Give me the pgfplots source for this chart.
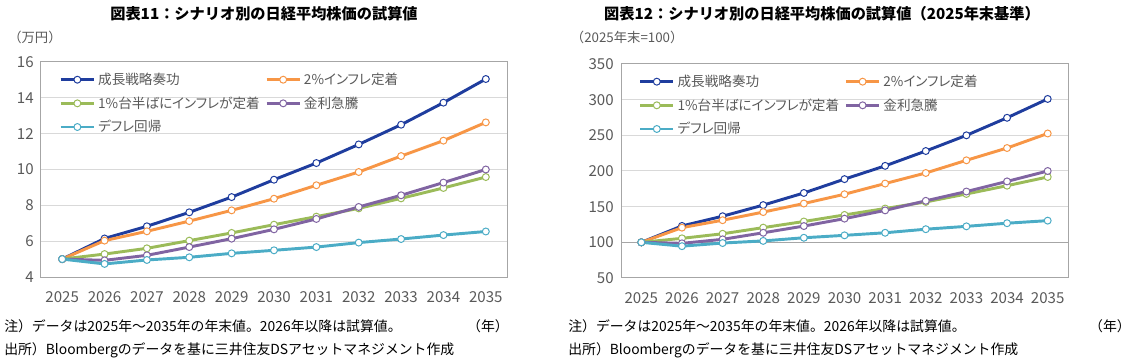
\documentclass[border=0pt]{standalone}
\usepackage{pgfplots}
\pgfplotsset{compat=1.18}
\usepackage{pgfplotstable}
\usepackage{fontspec}
\setmainfont{Noto Sans CJK JP}
\newfontfamily\legfont[RawFeature=+palt]{Noto Sans CJK JP}
\definecolor{cblue}{HTML}{1F3D9E}
\definecolor{corange}{HTML}{F79646}
\definecolor{cgreen}{HTML}{9BBB59}
\definecolor{cpurple}{HTML}{8064A2}
\definecolor{ccyan}{HTML}{4BACC6}
\definecolor{tickgray}{HTML}{595959}
\definecolor{gridgray}{HTML}{D9D9D9}
\definecolor{framegray}{HTML}{A6A6A6}

\pgfplotstableread{
x b o g p c
0 5.00 5.00 5.00 5.00 5.00
1 6.15 6.03 5.28 4.93 4.73
2 6.83 6.55 5.60 5.21 4.95
3 7.61 7.12 6.03 5.67 5.10
4 8.46 7.72 6.46 6.14 5.32
5 9.43 8.37 6.92 6.66 5.49
6 10.36 9.12 7.37 7.24 5.67
7 11.40 9.86 7.83 7.91 5.92
8 12.50 10.75 8.39 8.56 6.12
9 13.73 11.61 8.97 9.27 6.34
10 15.05 12.63 9.58 10.00 6.54
}\tabA

\pgfplotstableread{
x b o g p c
0 100 100 100 100 100
1 123 120.6 105.6 98.6 94.6
2 136.6 131 112 104.2 99
3 152.2 142.4 120.6 113.4 102
4 169.2 154.4 129.2 122.8 106.4
5 188.6 167.4 138.4 133.2 109.8
6 207.2 182.4 147.4 144.8 113.4
7 228 197.2 156.6 158.2 118.4
8 250 215 167.8 171.2 122.4
9 274.6 232.2 179.4 185.4 126.8
10 301 252.6 191.6 200 130.4
}\tabB

\pgfplotsset{
  mystyle/.style={
    scale only axis,
    anchor=north west,
    xmin=-0.5, xmax=10.5,
    xtick={0,...,10},
    xticklabels={2025,2026,2027,2028,2029,2030,2031,2032,2033,2034,2035},
    major tick length=0pt,
    ymajorgrids,
    grid style={gridgray, line width=0.75pt},
    axis line style={framegray, line width=0.75pt},
    tick label style={font=\fontsize{11.3}{13}\selectfont, text=tickgray},
    /pgf/number format/assume math mode=true,
    xticklabel style={yshift=-7.5pt},
    yticklabel style={xshift=-2pt},
    every axis plot/.append style={line width=2.2pt, mark=*, mark size=2.6pt,
       mark options={fill=white, line width=0.75pt}},
    legend columns=2,
    legend cell align=left,
    legend style={draw=none, fill=none, font=\legfont\fontsize{10.2}{12}\selectfont,
       text=tickgray, row sep=3.6pt,
       /tikz/every even column/.append style={column sep=2pt}},
    legend image code/.code={\draw[mark repeat=2,mark phase=2,##1] plot coordinates {(0pt,0pt) (12.5pt,0pt) (25pt,0pt)};},
  }
}

\begin{document}
\begin{tikzpicture}
\useasboundingbox (0,0) rectangle (850.5pt,-272.25pt);

\begin{axis}[mystyle, at={(30.75pt,-46.5pt)}, width=349.5pt, height=161.25pt,
  ymin=4, ymax=16, ytick={4,6,...,16},
  legend style={at={(0.03,0.975)}, anchor=north west}]
\addplot[cblue] table[x=x,y=b]{\tabA};
\addlegendentry{成長戦略奏功}
\addplot[corange] table[x=x,y=o]{\tabA};
\addlegendentry{2\%インフレ定着}
\addplot[cgreen] table[x=x,y=g]{\tabA};
\addlegendentry{1\%台半ばにインフレが定着}
\addplot[cpurple] table[x=x,y=p]{\tabA};
\addlegendentry{金利急騰}
\addplot[ccyan] table[x=x,y=c]{\tabA};
\addlegendentry{デフレ回帰}
\end{axis}

\begin{axis}[mystyle, at={(465.75pt,-48pt)}, width=335.25pt, height=160.5pt,
  ymin=50, ymax=350, ytick={50,100,...,350},
  legend style={at={(0.03,0.975)}, anchor=north west}]
\addplot[framegray, line width=0.9pt, mark=none, forget plot] coordinates {(-0.5,100) (10.5,100)};
\addplot[cblue] table[x=x,y=b]{\tabB};
\addlegendentry{成長戦略奏功}
\addplot[corange] table[x=x,y=o]{\tabB};
\addlegendentry{2\%インフレ定着}
\addplot[cgreen] table[x=x,y=g]{\tabB};
\addlegendentry{1\%台半ばにインフレが定着}
\addplot[cpurple] table[x=x,y=p]{\tabB};
\addlegendentry{金利急騰}
\addplot[ccyan] table[x=x,y=c]{\tabB};
\addlegendentry{デフレ回帰}
\end{axis}

\node[font=\fontsize{11.4}{13}\selectfont\bfseries] at (198pt,-10.5pt) {図表11：シナリオ別の日経平均株価の試算値};
\node[font=\fontsize{11.4}{13}\selectfont\bfseries] at (616.5pt,-10.5pt) {図表12：シナリオ別の日経平均株価の試算値（2025年末基準）};
\node[anchor=west, font=\fontsize{10}{12}\selectfont, text=tickgray, inner sep=0pt] at (6pt,-27.75pt) {（万円）};
\node[anchor=west, font=\fontsize{10}{12}\selectfont, text=tickgray, inner sep=0pt] at (428pt,-27.75pt) {（2025年末=100）};

\node[anchor=west, font=\fontsize{10.4}{12}\selectfont, inner sep=0pt] at (3pt,-244.5pt) {注）データは2025年～2035年の年末値。2026年以降は試算値。};
\node[anchor=west, font=\fontsize{10.4}{12}\selectfont, inner sep=0pt] at (3pt,-262.5pt) {出所）Bloombergのデータを基に三井住友DSアセットマネジメント作成};
\node[anchor=east, font=\fontsize{10.4}{12}\selectfont, inner sep=0pt] at (381.75pt,-244.5pt) {（年）};

\node[anchor=west, font=\fontsize{10.4}{12}\selectfont, inner sep=0pt] at (426pt,-244.5pt) {注）データは2025年～2035年の年末値。2026年以降は試算値。};
\node[anchor=west, font=\fontsize{10.4}{12}\selectfont, inner sep=0pt] at (426pt,-262.5pt) {出所）Bloombergのデータを基に三井住友DSアセットマネジメント作成};
\node[anchor=east, font=\fontsize{10.4}{12}\selectfont, inner sep=0pt] at (848.25pt,-244.5pt) {（年）};
\end{tikzpicture}
\end{document}
